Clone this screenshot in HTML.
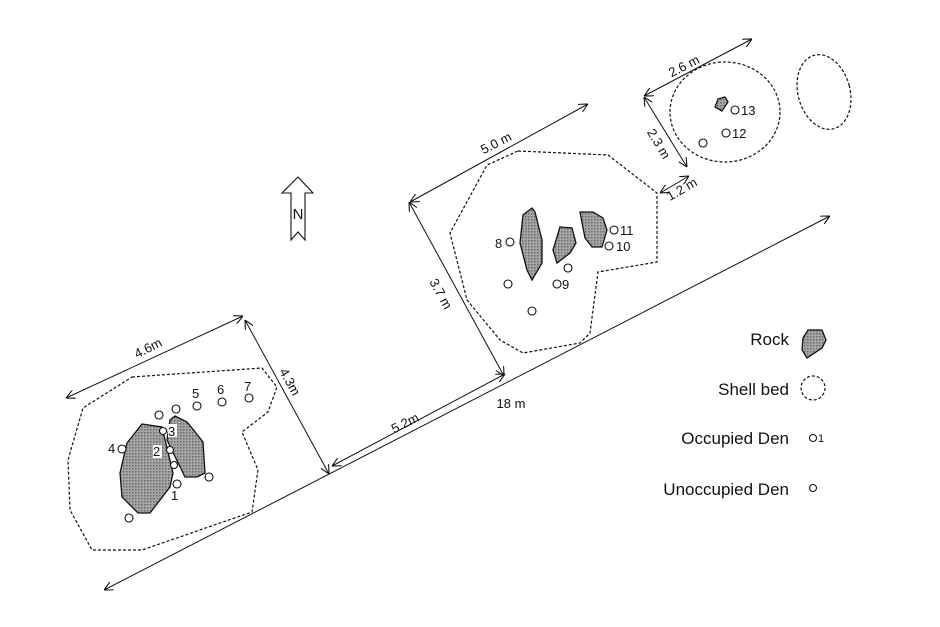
<!DOCTYPE html>
<html><head><meta charset="utf-8"><style>body{margin:0;background:#fff}svg{display:block}text{font-family:"Liberation Sans",sans-serif;fill:#111}</style></head><body>
<svg width="940" height="627" viewBox="0 0 940 627" xmlns="http://www.w3.org/2000/svg">
<defs>
<marker id="a" viewBox="0 0 10 10" refX="10" refY="5" markerWidth="9" markerHeight="9" orient="auto-start-reverse" markerUnits="userSpaceOnUse"><path d="M0,0 L10,5 L0,10" fill="none" stroke="#111" stroke-width="1.2"/></marker>
<pattern id="d" width="3" height="3" patternUnits="userSpaceOnUse"><rect width="3" height="3" fill="#a6a6a6"/><rect width="1.5" height="1.5" fill="#6a6a6a"/></pattern>
</defs>
<g fill="none" stroke="#111" stroke-width="1">
<line x1="104" y1="590" x2="830" y2="216" marker-start="url(#a)" marker-end="url(#a)"/>
<line x1="66" y1="398" x2="243" y2="316" marker-start="url(#a)" marker-end="url(#a)"/>
<line x1="245" y1="320" x2="329" y2="474" marker-start="url(#a)" marker-end="url(#a)"/>
<line x1="332" y1="466" x2="505" y2="374" marker-start="url(#a)" marker-end="url(#a)"/>
<line x1="409" y1="202" x2="504" y2="376" marker-start="url(#a)" marker-end="url(#a)"/>
<line x1="410" y1="202" x2="588" y2="104" marker-start="url(#a)" marker-end="url(#a)"/>
<line x1="644" y1="96" x2="752" y2="39" marker-start="url(#a)" marker-end="url(#a)"/>
<line x1="644" y1="97" x2="687" y2="167" marker-start="url(#a)" marker-end="url(#a)"/>
<line x1="660" y1="193" x2="689" y2="176" marker-start="url(#a)" marker-end="url(#a)"/>
</g>
<g fill="none" stroke="#111" stroke-width="1.2" stroke-dasharray="3,2">
<polygon points="132,377 262,368 277,387 268,412 242,432 258,470 252,512 142,550 92,550 70,510 68,460 83,408"/>
<polygon points="518,151 608,155 657,193 657,262 598,272 590,333 580,343 523,353 500,340 467,300 450,233 487,165"/>
<ellipse cx="725" cy="112" rx="55" ry="50"/>
<ellipse cx="824" cy="92" rx="26" ry="38" transform="rotate(-15 824 92)"/>
<circle cx="813" cy="388" r="12"/>
</g>
<g fill="url(#d)" stroke="#111" stroke-width="1.3">
<polygon points="142,424 162,427 173,473 170,487 150,513 138,513 122,497 120,473 127,443"/>
<polygon points="175,416 187,422 192,428 203,442 205,473 197,477 185,477 167,440 170,420"/>
<polygon points="532,208 535,212 542,240 542,263 532,280 527,270 520,243 523,215"/>
<polygon points="560,227 572,228 576,243 570,253 557,263 553,250"/>
<polygon points="580,212 593,212 603,218 607,230 602,247 592,247 585,238"/>
<polygon points="718,99 725,97 728,102 722,111 715,107"/>
<polygon points="808,330 822,330 826,340 822,348 807,358 802,350 803,338"/>
</g>
<g fill="#fff" stroke="#111" stroke-width="1.1">
<circle cx="122" cy="449" r="4"/><circle cx="163" cy="431" r="3.5"/><circle cx="170" cy="450" r="3.5"/><circle cx="174" cy="465" r="3.5"/><circle cx="177" cy="484" r="4"/><circle cx="159" cy="415" r="4"/><circle cx="176" cy="409" r="4"/><circle cx="197" cy="406" r="4"/><circle cx="222" cy="402" r="4"/><circle cx="249" cy="398" r="4"/><circle cx="209" cy="477" r="4"/><circle cx="129" cy="518" r="4"/>
<circle cx="510" cy="242" r="4"/><circle cx="508" cy="284" r="4"/><circle cx="532" cy="311" r="4"/><circle cx="557" cy="284" r="4"/><circle cx="568" cy="268" r="4"/><circle cx="614" cy="230" r="4"/><circle cx="609" cy="246" r="4"/>
<circle cx="735" cy="110" r="4"/><circle cx="726" cy="133" r="4"/><circle cx="703" cy="143" r="4"/>
<circle cx="813" cy="438" r="3.5"/><circle cx="813" cy="488" r="3.5"/>
</g>
<rect x="168" y="424" width="9" height="13" fill="#fff"/><rect x="153" y="445" width="9" height="13" fill="#fff"/>
<g font-size="13">
<text x="108" y="453">4</text><text x="168" y="436">3</text><text x="153" y="456">2</text><text x="171" y="500">1</text>
<text x="192" y="398">5</text><text x="217" y="394">6</text><text x="244" y="391">7</text>
<text x="495" y="248">8</text><text x="562" y="289">9</text><text x="620" y="235">11</text><text x="616" y="251">10</text>
<text x="741" y="115">13</text><text x="732" y="138">12</text>
</g>
<text x="818" y="442" font-size="11">1</text>
<g font-size="13">
<text transform="translate(150,352) rotate(-27)" text-anchor="middle">4.6m</text>
<text transform="translate(286,384) rotate(61)" text-anchor="middle">4.3m</text>
<text x="511" y="408" text-anchor="middle">18 m</text>
<text transform="translate(407,427) rotate(-27)" text-anchor="middle">5.2m</text>
<text transform="translate(437,296) rotate(61)" text-anchor="middle">3.7 m</text>
<text transform="translate(498,147) rotate(-27)" text-anchor="middle">5.0 m</text>
<text transform="translate(686,70) rotate(-27)" text-anchor="middle">2.6 m</text>
<text transform="translate(655,146) rotate(59)" text-anchor="middle">2.3 m</text>
<text transform="translate(684,193) rotate(-30)" text-anchor="middle">1.2 m</text>
</g>
<polygon points="298,177 313,193 305,193 305,240 298,232 291,240 291,193 282,193" fill="#fff" stroke="#111" stroke-width="1.1"/>
<text x="298" y="219" font-size="15" text-anchor="middle">N</text>
<g font-size="17" text-anchor="end">
<text x="789" y="345">Rock</text>
<text x="789" y="395">Shell bed</text>
<text x="789" y="444">Occupied Den</text>
<text x="789" y="495">Unoccupied Den</text>
</g>
</svg>
</body></html>
